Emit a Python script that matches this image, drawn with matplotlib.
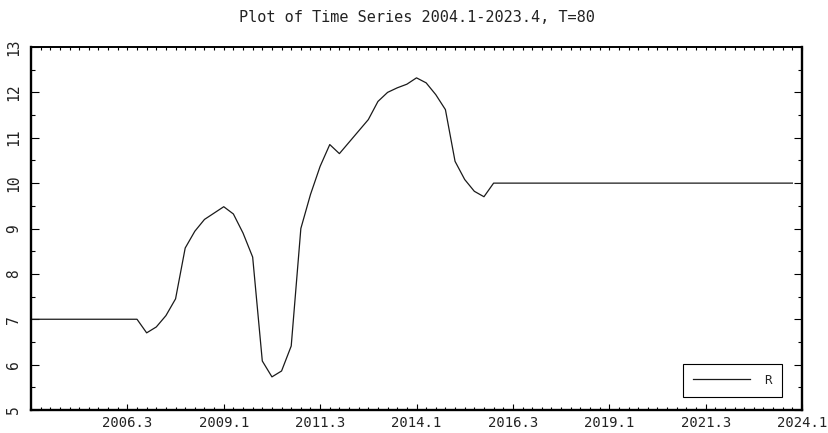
import matplotlib
matplotlib.use("Agg")
import matplotlib.pyplot as plt
from matplotlib.ticker import MultipleLocator, FixedLocator

# ---- data -------------------------------------------------------------
title = "Plot of Time Series 2004.1-2023.4, T=80"
series_name = "R"
values = [
    7.00, 7.00, 7.00, 7.00, 7.00, 7.00, 7.00, 7.00, 7.00, 7.00, 7.00, 7.00,
    6.70, 6.83, 7.08, 7.45, 8.57, 8.94, 9.20, 9.34, 9.48, 9.32, 8.90, 8.37,
    6.08, 5.73, 5.86, 6.41, 9.00, 9.75, 10.37, 10.85, 10.65, 10.90, 11.15,
    11.40, 11.80, 12.00, 12.10, 12.18, 12.32, 12.21, 11.95, 11.62, 10.48,
    10.08, 9.82, 9.70, 10.00,
    10.00, 10.00, 10.00, 10.00, 10.00, 10.00, 10.00, 10.00, 10.00, 10.00,
    10.00, 10.00, 10.00, 10.00, 10.00, 10.00, 10.00, 10.00, 10.00, 10.00,
    10.00, 10.00, 10.00, 10.00, 10.00, 10.00, 10.00, 10.00, 10.00, 10.00,
    10.00,
]
quarter_index = list(range(len(values)))          # 0 = 2004.1
xtick_positions = [10, 20, 30, 40, 50, 60, 70, 80]
xtick_labels = ["2006.3", "2009.1", "2011.3", "2014.1",
                "2016.3", "2019.1", "2021.3", "2024.1"]
ytick_values = [5, 6, 7, 8, 9, 10, 11, 12, 13]

# ---- figure -----------------------------------------------------------
FONT = "DejaVu Sans Mono"
plt.rcParams["font.family"] = [FONT]
TEXT_COLOR = "#222222"

W, H = 829, 433
fig = plt.figure(figsize=(W / 100, H / 100), dpi=100)
left, right, top, bottom = 31, 802, 47, 410
ax = fig.add_axes([left / W, 1 - bottom / H, (right - left) / W, (bottom - top) / H])

ax.plot(quarter_index, values, color="#1a1a1a", lw=0.9, label=series_name)

ax.set_xlim(0, 80)
ax.set_ylim(5, 13)

for side in ["left", "right", "bottom"]:
    ax.spines[side].set_linewidth(1.7)
ax.spines["top"].set_linewidth(1.2)

# x axis (bottom)
ax.xaxis.set_major_locator(FixedLocator(xtick_positions))
ax.set_xticklabels(xtick_labels)
ax.xaxis.set_minor_locator(MultipleLocator(1))
ax.tick_params(axis="x", which="major", direction="in", length=4, width=0.8,
               pad=4, labelsize=10, labelcolor=TEXT_COLOR, top=False, bottom=True)
ax.tick_params(axis="x", which="minor", direction="in", length=2, width=0.8,
               top=False, bottom=True)

# x axis (top) - small ticks every quarter
sec = ax.secondary_xaxis("top", functions=(lambda x: x, lambda x: x))
sec.xaxis.set_major_locator(MultipleLocator(1))
sec.tick_params(direction="in", length=2, width=0.8, labeltop=False)
sec.spines["top"].set_linewidth(1.2)

# y axis
ax.set_yticks(ytick_values)
ax.set_yticklabels([str(v) for v in ytick_values])
ax.yaxis.set_minor_locator(MultipleLocator(0.5))
ax.tick_params(axis="y", which="major", direction="in", length=6, width=0.8,
               left=True, right=True, pad=7, labelsize=10.5, labelcolor=TEXT_COLOR,
               labelrotation=90)
ax.tick_params(axis="y", which="minor", direction="in", length=3, width=0.8,
               left=True, right=True)
for lbl in ax.get_yticklabels():
    lbl.set_verticalalignment("center")

# legend
leg = ax.legend(loc="lower right", bbox_to_anchor=((782 - left) / (right - left),
                                                    (bottom - 397) / (bottom - top)),
                borderaxespad=0, fancybox=False, framealpha=1, edgecolor="black",
                fontsize=9, handlelength=4.6, handletextpad=1.1, borderpad=0.82)
leg.get_frame().set_linewidth(0.8)
for t in leg.get_texts():
    t.set_color(TEXT_COLOR)

fig.text(417 / W, 1 - 17 / H, title, ha="center", va="center", fontsize=11,
         color=TEXT_COLOR)

fig.savefig("out.png", dpi=100, facecolor="white")
